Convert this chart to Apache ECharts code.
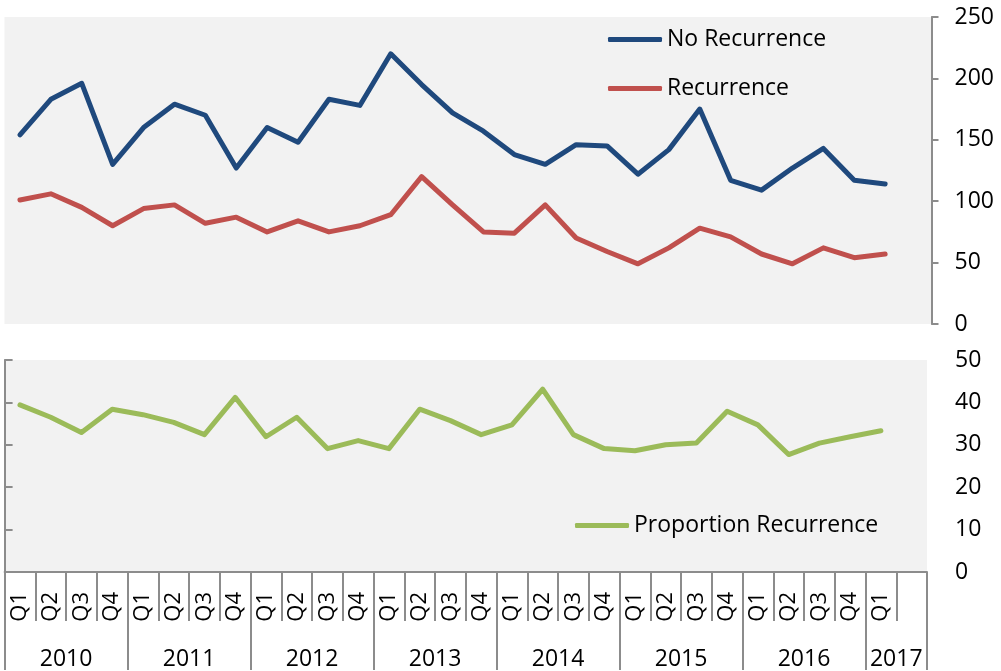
<!DOCTYPE html>
<html>
<head>
<meta charset="utf-8">
<script src="https://cdn.jsdelivr.net/npm/echarts@6/dist/echarts.min.js"></script>
<style>html,body{margin:0;padding:0;background:#fff;}#c{width:1001px;height:671px;}</style>
</head>
<body>
<div id="c"></div>
<script>
// ---- data ----
const yearList = ['2010','2011','2012','2013','2014','2015','2016','2017'];
const quarterNames = ['Q1','Q2','Q3','Q4'];
const noRecurrence = [154,183,196,130,160,179,170,127,160,148,183,178,220,195,172,157,138,130,146,145,122,142,175,117,109,127,143,117,114];
const recurrence   = [101,106,95,80,94,97,82,87,75,84,75,80,89,120,97,75,74,97,70,59,49,62,78,71,57,49,62,54,57];
const proportion   = [39.4,36.5,32.9,38.4,37.1,35.3,32.4,41.2,31.9,36.5,29.1,31,29.1,38.4,35.7,32.4,34.7,43.1,32.4,29.1,28.6,30,30.4,37.9,34.7,27.7,30.4,31.9,33.3];

// categories: each quarter of each year (2017 has Q1 plus one empty slot)
const catQuarter = [], catYear = [];
yearList.forEach(function (y, yi) {
  const qs = yi < yearList.length - 1 ? quarterNames : ['Q1', ''];
  qs.forEach(function (q) { catQuarter.push(q); catYear.push(y); });
});
const nCat = catQuarter.length;
// year group boundaries and centres (in category units)
const yearBounds = [], yearCenters = [], yearAtCenter = {};
for (let i = 0; i <= nCat; i++) {
  if (i === 0 || i === nCat || catYear[i] !== catYear[i - 1]) yearBounds.push(i);
}
for (let k = 0; k < yearBounds.length - 1; k++) {
  const c = (yearBounds[k] + yearBounds[k + 1]) / 2;
  yearCenters.push(c);
  yearAtCenter[c] = catYear[yearBounds[k]];
}

const FONT = 'Open Sans';
const FS = 23;
const GRAY = '#8c8c8c';
const chart = echarts.init(document.getElementById('c'));
chart.setOption({
  animation: false,
  textStyle: { fontFamily: FONT, color: '#000' },
  grid: [
    { left: 4.5, right: 69.5, top: 17, height: 307, show: true, backgroundColor: '#F2F2F2', borderWidth: 0 },
    { left: 4.6, right: 74, top: 360, height: 213, show: true, backgroundColor: '#F2F2F2', borderWidth: 0 }
  ],
  legend: [
    { data: ['No Recurrence', 'Recurrence'], orient: 'vertical', left: 603, top: 23, itemWidth: 54, itemHeight: 5, itemGap: 26, icon: 'roundRect',
      textStyle: { fontFamily: FONT, fontSize: FS, color: '#000' } },
    { data: ['Proportion Recurrence'], left: 570, top: 509, itemWidth: 54, itemHeight: 5, icon: 'roundRect',
      textStyle: { fontFamily: FONT, fontSize: FS, color: '#000' } }
  ],
  xAxis: [
    { type: 'category', gridIndex: 0, data: catQuarter, boundaryGap: true, show: false },
    { type: 'category', gridIndex: 1, data: catQuarter, boundaryGap: true,
      axisLine: { show: true, lineStyle: { color: GRAY, width: 2 } },
      axisTick: { show: true, interval: 0, length: 49, lineStyle: { color: GRAY, width: 2 } },
      axisLabel: { interval: 0, rotate: 90, margin: 20, fontSize: 22, fontFamily: FONT, color: '#000' } },
    { type: 'value', gridIndex: 1, position: 'bottom', min: 0, max: nCat,
      axisLine: { show: false }, splitLine: { show: false },
      axisTick: { show: true, customValues: yearBounds, length: 98, lineStyle: { color: GRAY, width: 2 } },
      axisLabel: { customValues: yearCenters, margin: 76, fontSize: FS, fontFamily: FONT, color: '#000',
        formatter: function (v) { return yearAtCenter[v] || ''; } } }
  ],
  yAxis: [
    { type: 'value', gridIndex: 0, position: 'right', min: 0, max: 250, interval: 50,
      axisLine: { show: true, lineStyle: { color: GRAY, width: 2 } },
      axisTick: { show: true, length: 7, lineStyle: { color: GRAY, width: 2 } },
      splitLine: { show: false },
      axisLabel: { margin: 23, fontSize: FS, fontFamily: FONT, color: '#000' } },
    { type: 'value', gridIndex: 1, position: 'right', min: 0, max: 50, interval: 10,
      axisLine: { show: true, lineStyle: { color: GRAY, width: 2 } },
      axisTick: { show: true, length: 8, lineStyle: { color: GRAY, width: 2 } },
      splitLine: { show: false },
      axisLabel: { margin: 28, fontSize: FS, fontFamily: FONT, color: '#000' } }
  ],
  series: [
    { name: 'No Recurrence', type: 'line', xAxisIndex: 0, yAxisIndex: 0, data: noRecurrence, showSymbol: false, symbol: 'none',
      color: '#1F497D', lineStyle: { width: 5, color: '#1F497D', cap: 'round', join: 'round' } },
    { name: 'Recurrence', type: 'line', xAxisIndex: 0, yAxisIndex: 0, data: recurrence, showSymbol: false, symbol: 'none',
      color: '#C0504D', lineStyle: { width: 5, color: '#C0504D', cap: 'round', join: 'round' } },
    { name: 'Proportion Recurrence', type: 'line', xAxisIndex: 1, yAxisIndex: 1, data: proportion, showSymbol: false, symbol: 'none',
      color: '#9BBB59', lineStyle: { width: 5, color: '#9BBB59', cap: 'round', join: 'round' } }
  ]
});
</script>
</body>
</html>
